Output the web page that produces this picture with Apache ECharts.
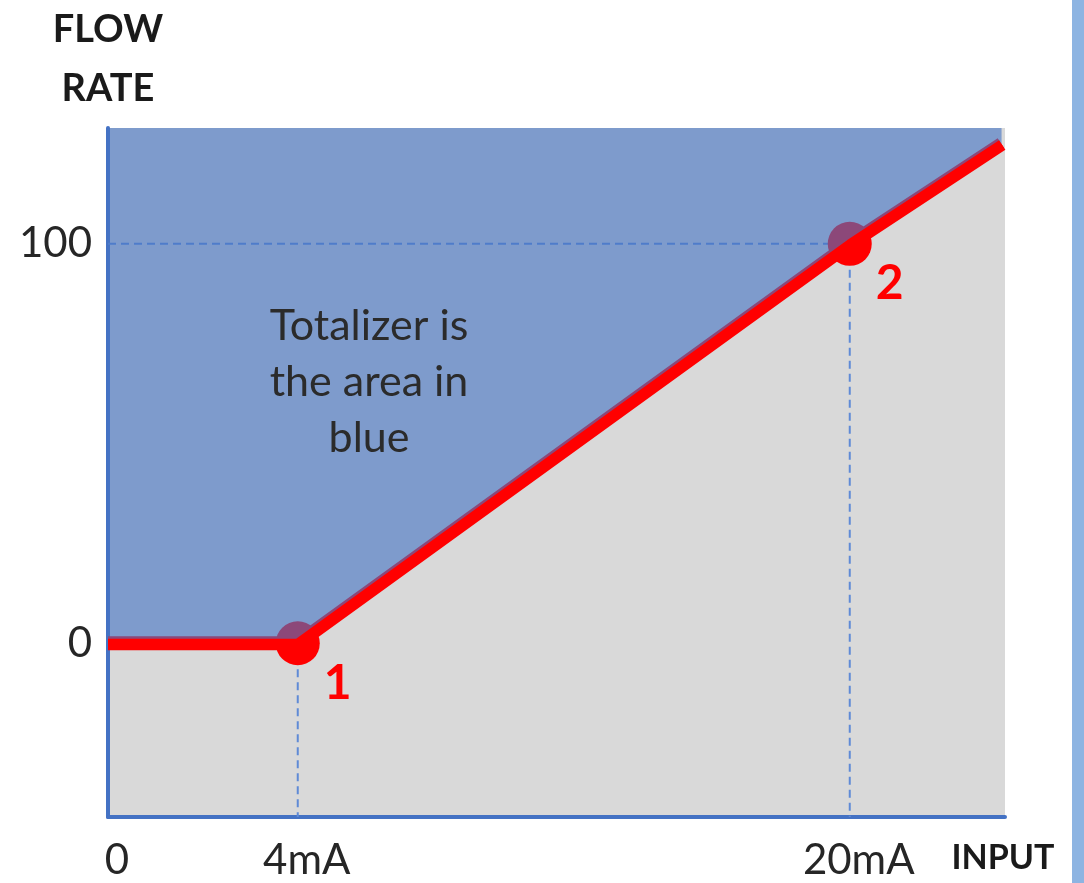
<!DOCTYPE html>
<html>
<head>
<meta charset="utf-8">
<script src="https://cdn.jsdelivr.net/npm/echarts@6/dist/echarts.min.js"></script>
<style>
html,body{margin:0;padding:0;background:#fff;}
#chart{width:1084px;height:883px;}
</style>
</head>
<body>
<div id="chart"></div>
<script>
// ---- data ----
const xTickValues = [-1.5, 4, 20];
const xTickLabels = ['0', '4mA', '20mA'];
const yTickValues = [0, 100];
const yTickLabels = ['0', '100'];
const flowCurveX = [-1.5, 4, 20, 24.4];
const flowCurveY = [0, 0, 100, 125];
const calPointX = [4, 20];
const calPointY = [0, 100];
const calPointLabels = ['1', '2'];
const areaText = 'Totalizer is\nthe area in\nblue';
const xAxisTitle = 'INPUT';
const yAxisTitle = 'FLOW\nRATE';

const X_MIN = -1.5, X_MAX = 24.5, Y_MIN = -43.5, Y_MAX = 129;

const curve = flowCurveX.map((x, i) => [x, flowCurveY[i]]);
const calPts = calPointX.map((x, i) => [x, calPointY[i]]);
const guideH = [[X_MIN, calPointY[1]], [calPointX[1], calPointY[1]]];
const guideV1 = [[calPointX[0], calPointY[0]], [calPointX[0], Y_MIN]];
const guideV2 = [[calPointX[1], calPointY[1]], [calPointX[1], Y_MIN]];

const FONT = 'Lato';
const dashStyle = { color: '#5f8ad6', width: 2, type: [8, 5] };

const chart = echarts.init(document.getElementById('chart'), null, { renderer: 'canvas' });
chart.setOption({
  animation: false,
  backgroundColor: '#ffffff',
  grid: { left: 108, right: 79, top: 127, bottom: 66, show: true, backgroundColor: '#d9d9d9', borderWidth: 0 },
  xAxis: {
    type: 'value', min: X_MIN, max: X_MAX,
    name: xAxisTitle, nameLocation: 'end', nameGap: -2,
    nameTextStyle: { fontFamily: FONT, fontWeight: 'bold', fontSize: 34, color: '#1a1a1a', align: 'center', verticalAlign: 'top', padding: [24, 0, 0, 0] },
    axisLine: { show: true, onZero: false, lineStyle: { color: '#4472c4', width: 4 } },
    axisTick: { show: false },
    splitLine: { show: false },
    axisLabel: {
      customValues: xTickValues, margin: 22,
      fontFamily: FONT, fontSize: 42, color: '#262626', padding: [0, 0, 0, 18],
      formatter: v => { const i = xTickValues.indexOf(v); return i >= 0 ? xTickLabels[i] : ''; }
    }
  },
  yAxis: {
    type: 'value', min: Y_MIN, max: Y_MAX,
    name: yAxisTitle, nameLocation: 'end', nameGap: 10,
    nameTextStyle: { fontFamily: FONT, fontWeight: 'bold', fontSize: 38, lineHeight: 59, color: '#1a1a1a', align: 'center', verticalAlign: 'bottom' },
    axisLine: { show: true, onZero: false, lineStyle: { color: '#4472c4', width: 4 } },
    axisTick: { show: false },
    splitLine: { show: false },
    axisLabel: {
      customValues: yTickValues, margin: 16,
      fontFamily: FONT, fontSize: 42, color: '#262626',
      formatter: v => { const i = yTickValues.indexOf(v); return i >= 0 ? yTickLabels[i] : ''; }
    }
  },
  graphic: [
    { type: 'rect', right: 0, top: 0, shape: { width: 12, height: 883 }, style: { fill: '#8db4e2' } },
    { type: 'text', x: 369, y: 298, style: { text: areaText, fontFamily: FONT, fontSize: 43, lineHeight: 56, fill: '#2b2b2b', align: 'center', verticalAlign: 'top' }, z: 10 }
  ],
  series: [
    { type: 'line', data: guideH, symbol: 'none', lineStyle: dashStyle, z: 1, silent: true },
    { type: 'line', data: guideV1, symbol: 'none', lineStyle: dashStyle, z: 1, silent: true },
    { type: 'line', data: guideV2, symbol: 'none', lineStyle: dashStyle, z: 1, silent: true },
    {
      type: 'scatter', data: calPts, symbol: 'circle', symbolSize: 44, z: 2,
      itemStyle: { color: '#ff0000', opacity: 1 },
      label: {
        show: true, position: 'inside',
        formatter: p => calPointLabels[p.dataIndex],
        offset: [40, 40], fontFamily: FONT, fontWeight: 'bold', fontSize: 48, color: '#ff0000'
      }
    },
    { type: 'line', data: curve, symbol: 'none', lineStyle: { color: '#ff0000', width: 14 }, z: 3 },
    {
      type: 'line', data: curve, symbol: 'none', z: 4,
      lineStyle: { width: 0, opacity: 0 },
      areaStyle: { origin: 'end', color: 'rgba(70,117,196,0.62)', opacity: 1 }
    },
    { type: 'line', data: curve, symbol: 'none', lineStyle: { color: '#ff0000', width: 9 }, z: 5 }
  ]
});
</script>
</body>
</html>
